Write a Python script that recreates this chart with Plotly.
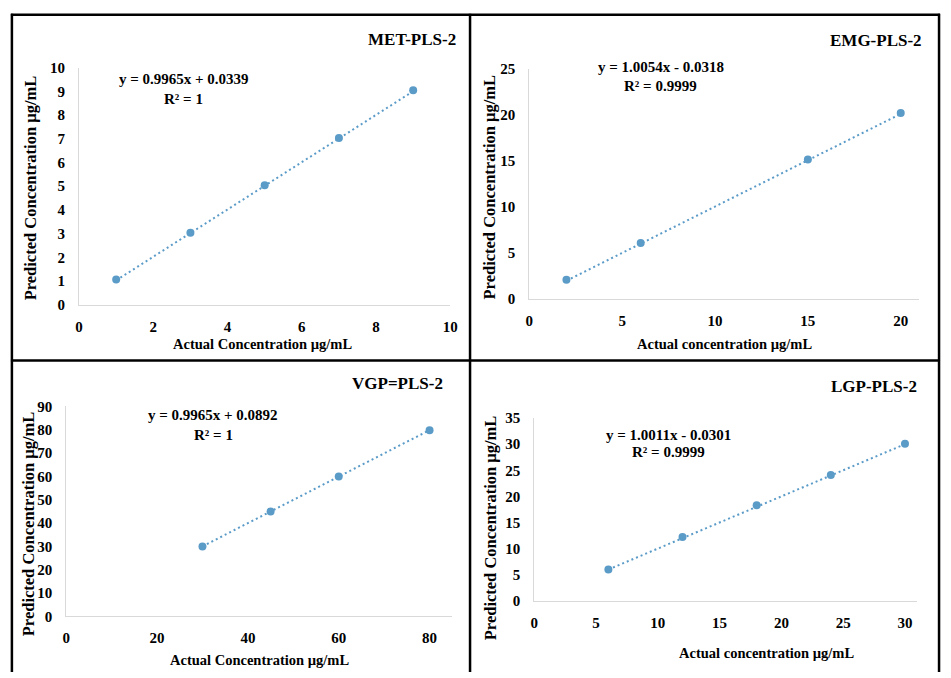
import plotly.graph_objects as go

W, H = 951, 678

# ---- data ----
met_x = [1, 3, 5, 7, 9]
met_y = [1.07, 3.04, 5.04, 7.03, 9.04]
emg_x = [2, 6, 15, 20]
emg_y = [2.08, 6.06, 15.12, 20.18]
vgp_x = [30, 45, 60, 80]
vgp_y = [29.9, 44.9, 59.9, 79.8]
lgp_x = [6, 12, 18, 24, 30]
lgp_y = [6.0, 12.2, 18.3, 24.1, 30.1]

titles = ["MET-PLS-2", "EMG-PLS-2", "VGP=PLS-2", "LGP-PLS-2"]
slopes = [0.9965, 1.0054, 0.9965, 1.0011]
intercepts = [0.0339, -0.0318, 0.0892, -0.0301]
equations = ["y = 0.9965x + 0.0339", "y = 1.0054x - 0.0318",
             "y = 0.9965x + 0.0892", "y = 1.0011x - 0.0301"]
r2_labels = ["R² = 1", "R² = 0.9999", "R² = 1", "R² = 0.9999"]
x_titles = ["Actual Concentration µg/mL", "Actual concentration µg/mL",
            "Actual Concentration µg/mL", "Actual concentration µg/mL"]
y_title = "Predicted Concentration µg/mL"
x_ranges = [[0, 10], [0, 21], [0, 85], [0, 31]]
y_ranges = [[0, 10], [0, 25], [0, 90], [0, 35]]
x_dticks = [2, 5, 20, 5]
y_dticks = [1, 5, 10, 5]

# ---- layout (pixels) ----
plot_boxes = [  # x0, x1, ytop, ybottom
    (76, 452, 61, 304),
    (532, 927, 62, 298),
    (63, 454, 408, 623),
    (537, 925, 420, 607),
]
title_pos = [(460, 32), (932, 33), (447, 385), (927, 388)]
eq_pos = [(182, 73, 93), (665, 60, 80), (212, 417, 437), (673, 437, 455)]
xt_pos = [(262, 344), (730, 344), (259, 668), (772, 661)]
yt_pos = [(27, 184), (492, 183), (25, 528), (493, 532)]

FONT = "Liberation Serif"
COLOR = "#5b9bc8"
AXC = "#d9d9d9"

def px(x):
    return x / W

def py(y):
    return 1 - y / H

fig = go.Figure()
data = [(met_x, met_y), (emg_x, emg_y), (vgp_x, vgp_y), (lgp_x, lgp_y)]
annotations = []
for i, (xs, ys) in enumerate(data):
    k = "" if i == 0 else str(i + 1)
    xa, ya = "x" + k, "y" + k
    x_lo, x_hi = min(xs), max(xs)
    fig.add_trace(go.Scatter(
        x=[x_lo, x_hi],
        y=[slopes[i] * x_lo + intercepts[i], slopes[i] * x_hi + intercepts[i]],
        mode="lines", line=dict(color=COLOR, width=2, dash="2px,3px"),
        xaxis=xa, yaxis=ya, showlegend=False, hoverinfo="skip"))
    fig.add_trace(go.Scatter(
        x=xs, y=ys, mode="markers",
        marker=dict(color=COLOR, size=8),
        xaxis=xa, yaxis=ya, showlegend=False))
    x0, x1, yt, yb = plot_boxes[i]
    common = dict(showgrid=False, zeroline=False, showline=True, linecolor=AXC,
                  linewidth=1, ticks="",
                  tickfont=dict(family=FONT, size=15, color="black", weight="bold"))
    fig.update_layout(**{
        "xaxis" + k: dict(domain=[px(x0), px(x1)], range=x_ranges[i], dtick=x_dticks[i],
                          tick0=0, anchor=ya, ticklabelstandoff=8, **common),
        "yaxis" + k: dict(domain=[py(yb), py(yt)], range=y_ranges[i], dtick=y_dticks[i],
                          tick0=0, anchor=xa, ticklabelstandoff=10, **common),
    })
    tx, ty = title_pos[i]
    annotations.append(dict(x=px(tx), y=py(ty), xref="paper", yref="paper",
                            text=titles[i], showarrow=False, xanchor="right", yanchor="middle",
                            font=dict(family=FONT, size=17, color="black", weight="bold")))
    ex, ey1, ey2 = eq_pos[i]
    annotations.append(dict(x=px(ex), y=py(ey1), xref="paper", yref="paper",
                            text=equations[i], showarrow=False, xanchor="center", yanchor="middle",
                            font=dict(family=FONT, size=15, color="black", weight="bold")))
    annotations.append(dict(x=px(ex), y=py(ey2), xref="paper", yref="paper",
                            text=r2_labels[i], showarrow=False, xanchor="center", yanchor="middle",
                            font=dict(family=FONT, size=15, color="black", weight="bold")))
    xx, xy = xt_pos[i]
    annotations.append(dict(x=px(xx), y=py(xy), xref="paper", yref="paper",
                            text=x_titles[i], showarrow=False, xanchor="center", yanchor="middle",
                            font=dict(family=FONT, size=14.5, color="black", weight="bold")))
    yx, yy = yt_pos[i]
    annotations.append(dict(x=px(yx), y=py(yy), xref="paper", yref="paper",
                            text=y_title, showarrow=False, xanchor="center", yanchor="middle",
                            textangle=-90,
                            font=dict(family=FONT, size=16.5, color="black", weight="bold")))

shapes = []
def hline(y, x0, x1):
    shapes.append(dict(type="line", xref="paper", yref="paper", x0=px(x0), x1=px(x1),
                       y0=py(y), y1=py(y), line=dict(color="black", width=2.5)))
def vline(x, y0, y1):
    shapes.append(dict(type="line", xref="paper", yref="paper", x0=px(x), x1=px(x),
                       y0=py(y0), y1=py(y1), line=dict(color="black", width=2.5)))
hline(7, 7, 948)
hline(361, 7, 948)
vline(8, 6, 680)
vline(472, 6, 680)
vline(947, 6, 680)

fig.update_layout(width=W, height=H, margin=dict(l=0, r=0, t=0, b=0),
                  paper_bgcolor="white", plot_bgcolor="white",
                  annotations=annotations, shapes=shapes, showlegend=False)
fig.write_html("out.html", config={"displayModeBar": False},
               post_script="document.body.style.margin='0';document.body.style.overflow='hidden';")
